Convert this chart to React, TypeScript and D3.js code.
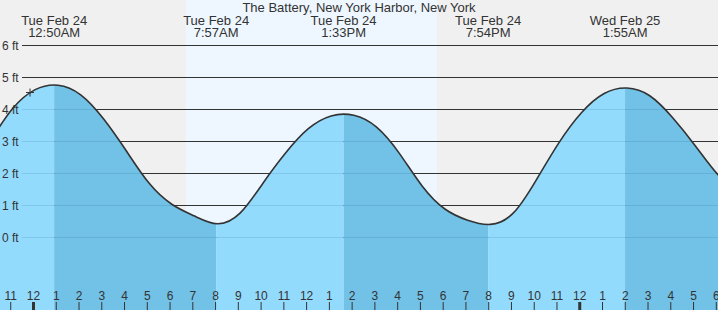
import React from "react";
import * as d3 from "d3";

// Hourly water level (ft), hours after Tue Feb 24 00:00
const hours = d3.range(-3, 32);
const heights = [2.0, 3.0, 4.02, 4.62, 4.76, 4.46, 3.71, 2.71, 1.7, 1.04, 0.67, 0.43, 0.76, 1.69, 2.64, 3.4, 3.8, 3.82, 3.45, 2.63, 1.61, 0.89, 0.54, 0.41, 0.76, 1.78, 2.95, 3.9, 4.5, 4.67, 4.43, 3.75, 2.87, 1.96, 1.3];

// Tide extremes
const extremeHours = [0.8333, 7.95, 13.55, 19.9, 25.9167];
const extremeDays = ["Tue Feb 24", "Tue Feb 24", "Tue Feb 24", "Tue Feb 24", "Wed Feb 25"];
const extremeTimes = ["12:50AM", "7:57AM", "1:33PM", "7:54PM", "1:55AM"];

// Daylight
const sunrise = 6.62;
const sunset = 17.64;

// Current time marker
const nowHour = -0.228;
const nowLevel = 4.53;

const yTicks = [0, 1, 2, 3, 4, 5, 6];
const hourTicks = d3.range(-1, 31);

const title = "The Battery, New York Harbor, New York";

const W = 718;
const H = 310;

export default function App() {
  const x = d3.scaleLinear().domain([0, 24]).range([35.2, 35.2 + 24 * 22.76]);
  const y = d3.scaleLinear().domain([0, 6]).range([237.5, 45.5]);
  const pts: [number, number][] = hours.map((h, i) => [h, heights[i]]);
  const line = d3.line<[number, number]>().x((d) => x(d[0])).y((d) => y(d[1])).curve(d3.curveNatural);
  const area = d3.area<[number, number]>().x((d) => x(d[0])).y0(H).y1((d) => y(d[1])).curve(d3.curveNatural);

  const bounds = [hours[0], ...extremeHours, hours[hours.length - 1]];
  const segs = bounds.slice(0, -1).map((b, i) => ({ a: b, b: bounds[i + 1], rising: i % 2 === 0 }));
  const font = "'Liberation Sans', Arial, sans-serif";
  const tickOff = -1.7;

  return (
    <svg width={W} height={H} style={{ position: "absolute", left: 0, top: 0, display: "block" }} fontFamily={font}>
      <defs>
        <clipPath id="water">
          <path d={area(pts) || ""} />
        </clipPath>
      </defs>
      <rect x={0} y={0} width={W} height={H} fill="#f0f0f0" />
      <rect x={x(sunrise)} y={0} width={x(sunset) - x(sunrise)} height={H} fill="#eef7ff" />
      {yTicks.map((t) => (
        <line key={"g" + t} x1={22} x2={W} y1={y(t)} y2={y(t)} stroke="#333" strokeWidth={1} />
      ))}
      <g clipPath="url(#water)">
        {segs.map((s, i) => (
          <rect key={i} x={x(s.a)} y={0} width={x(s.b) - x(s.a)} height={H} fill={s.rising ? "#93dbfd" : "#72c1e6"} />
        ))}
        {yTicks.map((t) => (
          <line key={"w" + t} x1={22} x2={W} y1={y(t)} y2={y(t)} stroke="rgba(0,60,110,0.12)" strokeWidth={1} />
        ))}
      </g>
      <path d={line(pts) || ""} fill="none" stroke="#333" strokeWidth={1.6} />
      <path d={`M${x(nowHour) - 4},${y(nowLevel)}h8M${x(nowHour)},${y(nowLevel) - 4}v8`} stroke="#333" strokeWidth={1} fill="none" />
      {yTicks.map((t) => (
        <text key={"l" + t} x={2} y={y(t) + 4.5} fontSize={12} fill="#333">{`${t} ft`}</text>
      ))}
      <text x={W / 2} y={12} fontSize={13} fill="#333" textAnchor="middle">{title}</text>
      {extremeHours.map((h, i) => (
        <g key={"e" + i}>
          <text x={x(h)} y={25} fontSize={13} fill="#333" textAnchor="middle">{extremeDays[i]}</text>
          <text x={x(h)} y={36.5} fontSize={13} fill="#333" textAnchor="middle">{extremeTimes[i]}</text>
        </g>
      ))}
      {hourTicks.map((h) => {
        const hh = ((h % 24) + 24) % 24;
        const lab = hh % 12 === 0 ? 12 : hh % 12;
        const px = x(h) + tickOff;
        return (
          <g key={"t" + h}>
            <line x1={px} x2={px} y1={302} y2={H} stroke="#333" strokeWidth={hh === 0 ? 3 : 1} />
            <text x={px} y={299.5} fontSize={12} fill="#333" textAnchor="middle">{lab}</text>
          </g>
        );
      })}
    </svg>
  );
}
